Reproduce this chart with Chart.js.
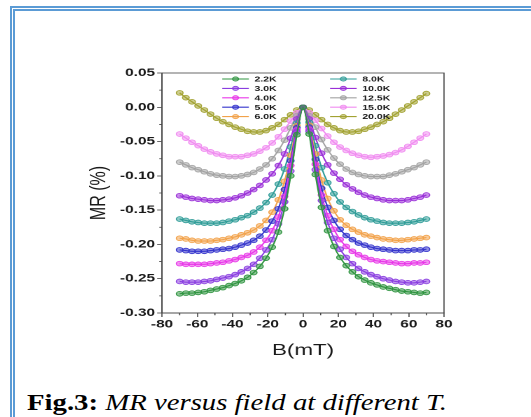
<!DOCTYPE html>
<html>
<head>
<meta charset="utf-8">
<script src="https://cdn.jsdelivr.net/npm/chart.js@4.4.1/dist/chart.umd.min.js"></script>
<style>
    body { margin: 0; background: #ffffff; width: 531px; height: 417px; overflow: hidden; position: relative; }
    .page_border_outer { position: absolute; left: 10px; top: 6px; width: 600px; height: 500px; border-left: 2px solid #5b9bd5; border-top: 2px solid #5b9bd5; }
    .page_border_inner { position: absolute; left: 13px; top: 9px; width: 600px; height: 500px; border-left: 2px solid #5b9bd5; border-top: 2px solid #5b9bd5; }
    #chart_box { position: absolute; left: 80px; top: 60px; width: 275px; height: 300px; transform: scaleX(1.4); transform-origin: 0 0; }
    #caption { position: absolute; left: 27px; top: 390px; font-family: "Liberation Serif", "Times New Roman", serif; font-size: 23px; white-space: nowrap; transform: scaleX(1.25); transform-origin: 0 0; }
</style>
</head>
<body>
<div class="page_border_outer"></div>
<div class="page_border_inner"></div>
<div id="chart_box"><canvas id="mr_chart" width="275" height="300"></canvas></div>
<div id="caption"><b>Fig.3:</b> <i>MR versus field at different T.</i></div>
<script>
// field values (mT), same for every temperature
const field_b = [-70, -66.5, -63, -59.5, -56, -52.5, -49, -45.5, -42, -38.5, -35, -31.5, -28, -24.5, -21, -17.5, -14, -10.5, -7, -3.5,
    0, 3.5, 7, 10.5, 14, 17.5, 21, 24.5, 28, 31.5, 35, 38.5, 42, 45.5, 49, 52.5, 56, 59.5, 63, 66.5, 70];

const temp_labels = ["2.2K", "3.0K", "4.0K", "5.0K", "6.0K", "8.0K", "10.0K", "12.5K", "15.0K", "20.0K"];
const temp_colors = ["#2f9440", "#8a3ee0", "#e838e8", "#3434cc", "#f2a24a", "#2f9c98", "#9a30d8", "#a3a3a3", "#f08cf0", "#a2a232"];

// MR (%) for each temperature
const mr_2_2K = [-0.272, -0.271, -0.271, -0.270, -0.269, -0.267, -0.265, -0.263, -0.260, -0.257, -0.253, -0.248, -0.241, -0.232, -0.220, -0.204, -0.182, -0.148, -0.100, -0.040,
    0, -0.039, -0.098, -0.146, -0.180, -0.203, -0.219, -0.231, -0.240, -0.247, -0.252, -0.256, -0.259, -0.262, -0.264, -0.266, -0.268, -0.269, -0.270, -0.271, -0.270];
const mr_3_0K = [-0.254, -0.255, -0.255, -0.255, -0.254, -0.253, -0.251, -0.249, -0.247, -0.244, -0.240, -0.235, -0.229, -0.220, -0.208, -0.193, -0.170, -0.138, -0.093, -0.036,
    0, -0.035, -0.091, -0.136, -0.168, -0.191, -0.207, -0.219, -0.228, -0.235, -0.240, -0.244, -0.247, -0.250, -0.252, -0.254, -0.255, -0.256, -0.256, -0.255, -0.254];
const mr_4_0K = [-0.228, -0.229, -0.229, -0.229, -0.229, -0.228, -0.227, -0.226, -0.224, -0.222, -0.219, -0.216, -0.211, -0.204, -0.194, -0.180, -0.160, -0.130, -0.085, -0.033,
    0, -0.032, -0.083, -0.128, -0.158, -0.178, -0.193, -0.203, -0.210, -0.215, -0.219, -0.222, -0.224, -0.225, -0.226, -0.227, -0.228, -0.228, -0.227, -0.227, -0.226];
const mr_5_0K = [-0.208, -0.209, -0.210, -0.210, -0.210, -0.209, -0.208, -0.207, -0.206, -0.204, -0.201, -0.198, -0.194, -0.188, -0.179, -0.166, -0.148, -0.120, -0.078, -0.030,
    0, -0.029, -0.076, -0.118, -0.146, -0.165, -0.178, -0.187, -0.193, -0.198, -0.201, -0.204, -0.206, -0.207, -0.208, -0.209, -0.209, -0.209, -0.208, -0.208, -0.207];
const mr_6_0K = [-0.191, -0.192, -0.194, -0.195, -0.195, -0.195, -0.194, -0.193, -0.191, -0.189, -0.186, -0.183, -0.179, -0.173, -0.165, -0.153, -0.135, -0.108, -0.070, -0.027,
    0, -0.026, -0.068, -0.106, -0.133, -0.151, -0.164, -0.172, -0.178, -0.182, -0.186, -0.188, -0.190, -0.192, -0.193, -0.194, -0.194, -0.193, -0.192, -0.191, -0.190];
const mr_8_0K = [-0.163, -0.165, -0.167, -0.168, -0.169, -0.169, -0.169, -0.168, -0.166, -0.164, -0.161, -0.158, -0.153, -0.147, -0.139, -0.128, -0.112, -0.090, -0.058, -0.023,
    0, -0.022, -0.056, -0.088, -0.110, -0.126, -0.138, -0.146, -0.152, -0.157, -0.161, -0.164, -0.166, -0.168, -0.169, -0.169, -0.169, -0.168, -0.167, -0.165, -0.163];
const mr_10_0K = [-0.129, -0.131, -0.133, -0.134, -0.135, -0.136, -0.136, -0.135, -0.134, -0.132, -0.129, -0.125, -0.120, -0.114, -0.106, -0.097, -0.085, -0.068, -0.045, -0.017,
    0, -0.017, -0.044, -0.067, -0.084, -0.096, -0.105, -0.113, -0.119, -0.124, -0.128, -0.131, -0.133, -0.135, -0.136, -0.136, -0.136, -0.135, -0.133, -0.131, -0.128];
const mr_12_5K = [-0.080, -0.084, -0.088, -0.091, -0.094, -0.097, -0.099, -0.100, -0.101, -0.101, -0.100, -0.098, -0.095, -0.090, -0.084, -0.075, -0.063, -0.048, -0.030, -0.012,
    0, -0.012, -0.029, -0.047, -0.062, -0.074, -0.083, -0.090, -0.095, -0.098, -0.100, -0.101, -0.101, -0.101, -0.099, -0.097, -0.094, -0.091, -0.088, -0.084, -0.080];
const mr_15_0K = [-0.039, -0.045, -0.051, -0.056, -0.061, -0.065, -0.068, -0.070, -0.072, -0.072, -0.072, -0.070, -0.068, -0.064, -0.059, -0.052, -0.043, -0.032, -0.020, -0.008,
    0, -0.008, -0.019, -0.031, -0.042, -0.051, -0.058, -0.063, -0.067, -0.070, -0.072, -0.073, -0.072, -0.071, -0.069, -0.066, -0.062, -0.057, -0.051, -0.045, -0.039];
const mr_20_0K = [0.021, 0.014, 0.008, 0.002, -0.004, -0.010, -0.016, -0.021, -0.025, -0.029, -0.032, -0.035, -0.036, -0.036, -0.034, -0.030, -0.025, -0.018, -0.011, -0.004,
    0, -0.004, -0.011, -0.018, -0.025, -0.030, -0.034, -0.036, -0.036, -0.035, -0.032, -0.029, -0.025, -0.021, -0.016, -0.010, -0.004, 0.002, 0.008, 0.014, 0.020];

const mr_series = [mr_2_2K, mr_3_0K, mr_4_0K, mr_5_0K, mr_6_0K, mr_8_0K, mr_10_0K, mr_12_5K, mr_15_0K, mr_20_0K];

const y_ticks = [-0.30, -0.25, -0.20, -0.15, -0.10, -0.05, 0.00, 0.05];
const x_ticks = [-80, -60, -40, -20, 0, 20, 40, 60, 80];

function with_alpha(hex, a) {
    let r = parseInt(hex.slice(1, 3), 16);
    let g = parseInt(hex.slice(3, 5), 16);
    let b = parseInt(hex.slice(5, 7), 16);
    return `rgba(${r}, ${g}, ${b}, ${a})`;
}

let datasets = [];
for (let i = 0; i < mr_series.length; i++) {
    datasets.push({
        label: temp_labels[i],
        data: field_b.map((b, j) => ({ x: b, y: mr_series[i][j] })),
        borderColor: temp_colors[i],
        backgroundColor: temp_colors[i],
        borderWidth: 1.1,
        pointRadius: 2.4,
        pointBorderWidth: 0.8,
        pointBackgroundColor: with_alpha(temp_colors[i], 0.55),
        pointBorderColor: temp_colors[i],
        tension: 0.25
    });
}

const tick_font = { family: "'Liberation Sans', Arial, sans-serif", size: 11, weight: "bold" };

// frame round the plot, the minor ticks and the two-column legend
const frame_and_legend = {
    id: "frame_and_legend",
    afterDraw(chart) {
        const ctx = chart.ctx;
        const area = chart.chartArea;
        const xs = chart.scales.x;
        const ys = chart.scales.y;
        ctx.save();
        ctx.strokeStyle = "#444444";
        ctx.lineWidth = 0.8;
        ctx.strokeRect(area.left, area.top, area.right - area.left, area.bottom - area.top);

        ctx.beginPath();
        for (let v = -70; v <= 70; v += 20) {
            let px = xs.getPixelForValue(v);
            ctx.moveTo(px, area.bottom);
            ctx.lineTo(px, area.bottom + 2.2);
        }
        for (let v = -0.275; v < 0.05; v += 0.05) {
            let py = ys.getPixelForValue(v);
            ctx.moveTo(area.left, py);
            ctx.lineTo(area.left - 2, py);
        }
        ctx.stroke();

        // legend
        ctx.font = "bold 7.5px 'Liberation Sans', Arial, sans-serif";
        ctx.textBaseline = "middle";
        ctx.textAlign = "left";
        for (let i = 0; i < datasets.length; i++) {
            let col = i < 5 ? 0 : 1;
            let row = i % 5;
            let x0 = area.left + 43 + col * 77;
            let y0 = area.top + 6 + row * 9.4;
            let color = temp_colors[i];
            ctx.strokeStyle = color;
            ctx.lineWidth = 1.1;
            ctx.beginPath();
            ctx.moveTo(x0, y0);
            ctx.lineTo(x0 + 19, y0);
            ctx.stroke();
            ctx.beginPath();
            ctx.arc(x0 + 9.5, y0, 2.1, 0, Math.PI * 2);
            ctx.fillStyle = with_alpha(color, 0.55);
            ctx.fill();
            ctx.lineWidth = 0.8;
            ctx.stroke();
            ctx.fillStyle = "#1a1a1a";
            ctx.fillText(temp_labels[i], x0 + 23, y0 + 0.5);
        }
        ctx.restore();
    }
};

const mr_chart = new Chart(document.getElementById("mr_chart"), {
    type: "line",
    data: { datasets: datasets },
    options: {
        responsive: false,
        animation: false,
        devicePixelRatio: 2,
        layout: { padding: { left: 0, top: 13, right: 15, bottom: 0 } },
        scales: {
            x: {
                type: "linear",
                min: -80,
                max: 80,
                afterFit: function (scale) { scale.height = 47; },
                afterBuildTicks: function (scale) { scale.ticks = x_ticks.map(v => ({ value: v })); },
                grid: { drawOnChartArea: false, drawTicks: true, tickLength: 4, color: "#444444", lineWidth: 0.8 },
                border: { color: "#444444", width: 0.8 },
                ticks: { font: tick_font, color: "#1a1a1a", padding: 1, maxRotation: 0 },
                title: { display: true, text: "B(mT)", font: { family: "'Liberation Sans', Arial, sans-serif", size: 16 }, color: "#1a1a1a", padding: { top: 0, bottom: 0 } }
            },
            y: {
                min: -0.30,
                max: 0.05,
                afterFit: function (scale) { scale.width = 58.6; },
                afterBuildTicks: function (scale) { scale.ticks = y_ticks.map(v => ({ value: v })); },
                grid: { drawOnChartArea: false, drawTicks: true, tickLength: 3.5, color: "#444444", lineWidth: 0.8 },
                border: { color: "#444444", width: 0.8 },
                ticks: {
                    font: tick_font,
                    color: "#1a1a1a",
                    padding: 1.5,
                    callback: function (val) { return val.toFixed(2); }
                },
                title: { display: true, text: "MR (%)", font: { family: "'Liberation Sans', Arial, sans-serif", size: 16 }, color: "#1a1a1a", padding: { top: 4, bottom: 0 } }
            }
        },
        plugins: {
            legend: { display: false },
            tooltip: { enabled: false }
        }
    },
    plugins: [frame_and_legend]
});
</script>
</body>
</html>
